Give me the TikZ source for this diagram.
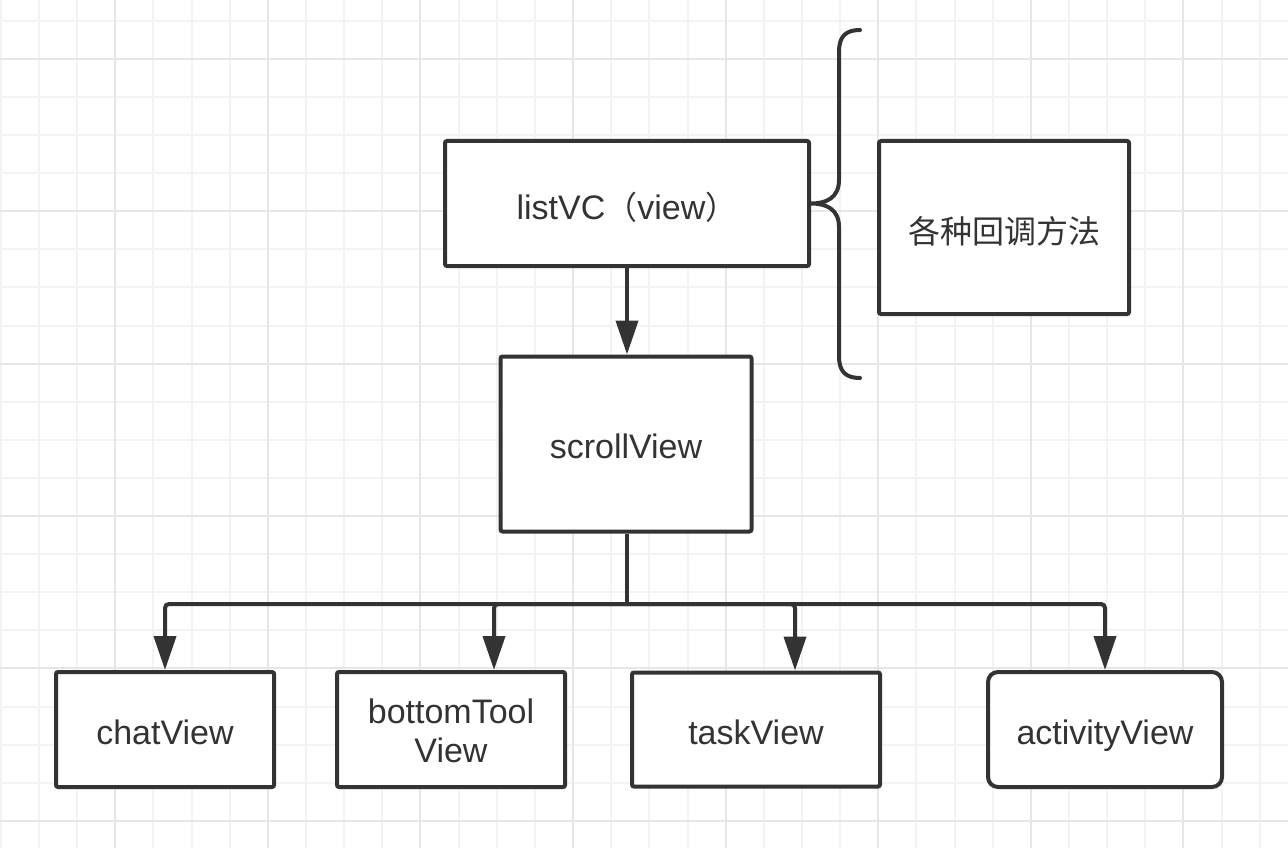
\documentclass[tikz,border=0pt]{standalone}
\usepackage{fontspec}
\setmainfont{Liberation Sans}
\newfontfamily\cjk{Noto Sans CJK SC}
\usetikzlibrary{arrows.meta}
\definecolor{ink}{HTML}{333333}
\definecolor{gminor}{HTML}{F3F3F3}
\definecolor{gmajor}{HTML}{E6E6E6}
\begin{document}
\begin{tikzpicture}[x=1pt,y=-1pt,
  gmin/.style={draw=gminor, line width=2pt},
  gmaj/.style={draw=gmajor, line width=2pt},
  box/.style={draw=ink, line width=4pt, fill=white, rounded corners=2pt,
    text=ink, font=\fontsize{34}{39}\selectfont, align=center, inner sep=0pt},
  one/.style={text height=29pt, text depth=0pt},
  conn/.style={draw=ink, line width=4pt, rounded corners=4pt,
    -{Triangle[length=34pt,width=22pt]}},
  trunk/.style={draw=ink, line width=4pt},
  brace/.style={draw=ink, line width=4pt, line cap=round, line join=round}]
% background and grid
\fill[white] (0,0) rectangle (1288,848);
\useasboundingbox (0,0) rectangle (1288,848);
\foreach \k in {0,...,33} \draw[gmin] ({0.8+38.15*\k},0) -- ({0.8+38.15*\k},848);
\foreach \k in {0,...,21} \draw[gmin] (0,{20.7+38.1*\k}) -- (1288,{20.7+38.1*\k});
\foreach \k in {3,7,...,31} \draw[gmaj] ({0.8+38.15*\k},0) -- ({0.8+38.15*\k},848);
\foreach \k in {1,5,...,21} \draw[gmaj] (0,{20.7+38.1*\k}) -- (1288,{20.7+38.1*\k});
% nodes
\node[box, text height=31pt, text depth=0pt, minimum width=364pt, minimum height=125pt] (list) at (627,203.5)
  {listVC{\cjk\fontsize{32}{39}\selectfont （}view{\cjk\fontsize{32}{39}\selectfont ）}};
\node[box, text height=31pt, text depth=0pt, minimum width=250pt, minimum height=173pt,
  font=\cjk\fontsize{32}{39}\selectfont] (cb) at (1004,227.5) {各种回调方法};
\node[box, one, minimum width=251pt, minimum height=175pt] (scroll) at (626,444) {scrollView};
\node[box, one, minimum width=218pt, minimum height=115pt] (chat) at (165,729.5) {chatView};
\node[box, minimum width=228pt, minimum height=115pt] (bt) at (451,729.5) {\strut bottomTool\\View};
\node[box, one, minimum width=248pt, minimum height=114pt] (task) at (756,729.5) {taskView};
\node[box, one, minimum width=234pt, minimum height=115pt, rounded corners=10pt] (act) at (1105,729.5) {activityView};
\coordinate (bus) at (627,604);
% connectors
\draw[conn] (list.south -| bus) -- (scroll.north -| bus);
\draw[trunk] (scroll.south -| bus) -- (bus);
\draw[conn] (bus) -| (chat.north);
\draw[conn] (bus) -| ([xshift=43pt]bt.north);
\draw[conn] (bus) -| ([xshift=39pt]task.north);
\draw[conn] (bus) -| (act.north);
% brace
\coordinate (tip) at (list.east);
\draw[brace] (860,30) .. controls (846,30) and (839,36) .. (839,52)
  -- (839,180) .. controls (839,198) and (826,203.5) .. (tip)
  .. controls (826,203.5) and (839,209) .. (839,227)
  -- (839,356) .. controls (839,372) and (846,378) .. (860,378);
\end{tikzpicture}
\end{document}
